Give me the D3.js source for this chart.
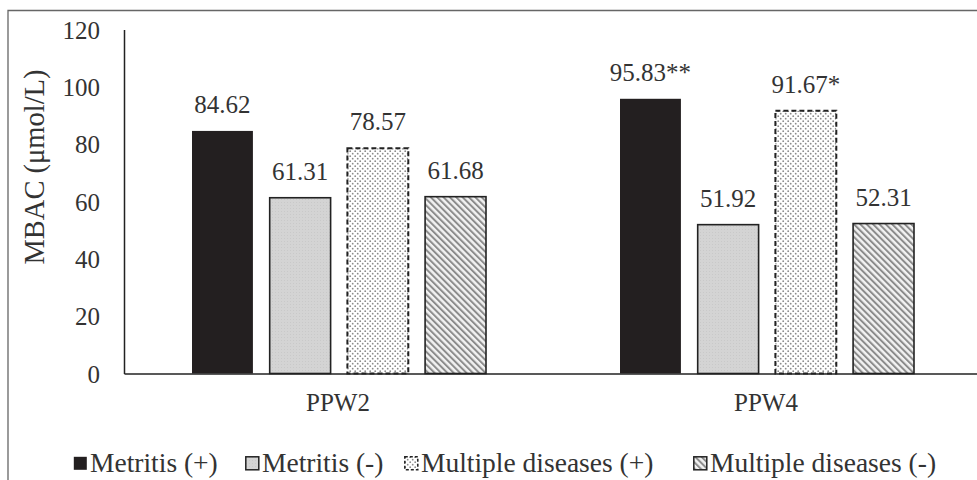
<!DOCTYPE html>
<html><head><meta charset="utf-8">
<script src="https://cdn.jsdelivr.net/npm/d3@7"></script>
<style>body{margin:0;background:#fff}svg{display:block}text{font-family:"Liberation Serif","Times New Roman",serif;fill:#333}</style>
</head><body>
<script>
const groups = ["PPW2", "PPW4"];
const series = ["Metritis (+)", "Metritis (-)", "Multiple diseases (+)", "Multiple diseases (-)"];
const values = {
  "PPW2": [84.62, 61.31, 78.57, 61.68],
  "PPW4": [95.83, 51.92, 91.67, 52.31]
};
const labels = {
  "PPW2": ["84.62", "61.31", "78.57", "61.68"],
  "PPW4": ["95.83**", "51.92", "91.67*", "52.31"]
};
const yTicks = [0, 20, 40, 60, 80, 100, 120];
const yTitle = "MBAC (μmol/L)";

const W = 977, H = 480;
const svg = d3.select("body").append("svg").attr("width", W).attr("height", H);
const defs = svg.append("defs");

// patterns
const dots = defs.append("pattern").attr("id","dots").attr("patternUnits","userSpaceOnUse").attr("width",5).attr("height",5);
dots.append("rect").attr("width",5).attr("height",5).attr("fill","#fff");
dots.append("circle").attr("cx",1.2).attr("cy",1.2).attr("r",0.9).attr("fill","#8a8a8a");
dots.append("circle").attr("cx",3.7).attr("cy",3.7).attr("r",0.9).attr("fill","#8a8a8a");
const hatch = defs.append("pattern").attr("id","hatch").attr("patternUnits","userSpaceOnUse").attr("width",4.5).attr("height",4.5).attr("patternTransform","rotate(-45)");
hatch.append("rect").attr("width",4.5).attr("height",4.5).attr("fill","#f2f2f2");
hatch.append("rect").attr("width",2).attr("height",4.5).attr("fill","#8c8c8c");
const grey = defs.append("pattern").attr("id","grey").attr("patternUnits","userSpaceOnUse").attr("width",3).attr("height",3);
grey.append("rect").attr("width",3).attr("height",3).attr("fill","#d4d4d4");
grey.append("rect").attr("x",1).attr("y",1).attr("width",1).attr("height",1).attr("fill","#c9c9c9");

const styles = [
  {fill:"#231f20", stroke:"none", sw:0, dash:null},
  {fill:"url(#grey)", stroke:"#222", sw:1.6, dash:null},
  {fill:"url(#dots)", stroke:"#222", sw:2, dash:"5,3"},
  {fill:"url(#hatch)", stroke:"#222", sw:1.6, dash:null}
];

// frame
svg.append("path").attr("d","M8,480 V10.5 H977").attr("fill","none").attr("stroke","#666").attr("stroke-width",1.3);

const y = d3.scaleLinear().domain([0,120]).range([373.5, 29.5]);
const x0 = d3.scaleBand().domain(groups).range([124, 980]).padding(0);
const x1 = d3.scaleBand().domain(series).range([68, 362]).paddingInner(0.216).paddingOuter(0);

// y axis
const yAxis = svg.append("g").attr("transform","translate(124,0)")
  .call(d3.axisLeft(y).tickValues(yTicks).tickSize(0).tickPadding(24).tickFormat(d3.format("d")));
yAxis.select(".domain").attr("stroke","#222").attr("stroke-width",1.5);
yAxis.selectAll("text").style("font-size","25px").attr("fill","#333").attr("dy","0.35em");

// bars
const g = svg.append("g");
groups.forEach(grp => {
  const gg = g.append("g").attr("transform",`translate(${x0(grp)},0)`);
  series.forEach((s,i) => {
    const v = values[grp][i], st = styles[i];
    const xx = x1(s), bw = x1.bandwidth();
    gg.append("rect").attr("x",xx).attr("y",y(v)).attr("width",bw).attr("height",y(0)-y(v))
      .attr("fill",st.fill).attr("stroke",st.stroke).attr("stroke-width",st.sw)
      .attr("stroke-dasharray",st.dash);
    gg.append("text").attr("x",xx+bw/2).attr("y",y(v)-18).attr("text-anchor","middle")
      .style("font-size","25px").text(labels[grp][i]);
  });
});

// x axis
const xAxis = svg.append("g").attr("transform","translate(0,373.5)")
  .call(d3.axisBottom(x0).tickSize(0).tickPadding(20));
xAxis.select(".domain").attr("stroke","#222").attr("stroke-width",1.5);
xAxis.selectAll("text").style("font-size","25px").attr("fill","#333");

// y title
svg.append("text").attr("transform","translate(44,167) rotate(-90)").attr("text-anchor","middle")
  .style("font-size","28.5px").text(yTitle);

// legend
const legX = [73, 245, 404, 693];
const leg = svg.append("g");
series.forEach((s,i) => {
  const st = styles[i];
  const lg = leg.append("g").attr("transform",`translate(${legX[i]},456)`);
  lg.append("rect").attr("x",0.8).attr("y",0.8).attr("width",13).attr("height",13)
    .attr("fill",st.fill).attr("stroke",i===0?"#231f20":"#222").attr("stroke-width",i===0?0:1.5)
    .attr("stroke-dasharray",st.dash?"3,2":null);
  lg.append("text").attr("x",17).attr("y",15.5).style("font-size","27.5px").text(s);
});
</script>
</body></html>
